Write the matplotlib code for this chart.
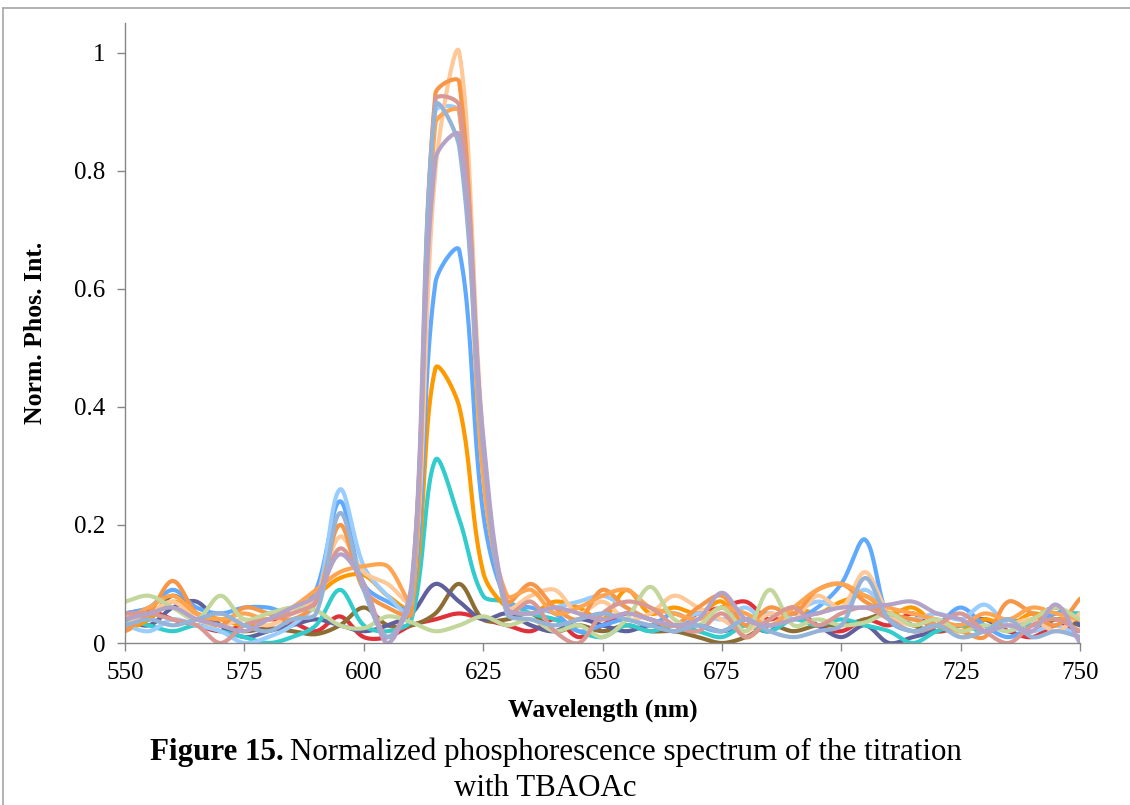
import numpy as np
import matplotlib
matplotlib.use("Agg")
import matplotlib.pyplot as plt
import matplotlib.ticker as ticker
from matplotlib.lines import Line2D

plt.rcParams["font.family"] = ["Liberation Serif", "DejaVu Serif"]

# Wavelength grid (nm), one reading every 5 nm
wavelength = list(range(550, 755, 5))

red = [.05, .055, .04, .03, .02, .03, .04, .035, .02, .045, .01, .01, .03, .04, .05, .04, .03, .02, .04, .01,
       .03, .05, .04, .03, .05, .06, .07, .04, .06, .03, .02, .04, .03, .05, .02, .03, .04, .02, .01, .03, .02]
brown = [.03, .04, .08, .05, .03, .02, .025, .02, .015, .03, .06, .03, .03, .05, .10, .04, .04, .05, .02, .03,
         .02, .03, .02, .02, .01, .0, .01, .03, .02, .03, .03, .04, .05, .03, .02, .03, .02, .03, .02, .04, .03]
slate = [.04, .03, .06, .07, .03, .01, .02, .03, .04, .03, .02, .03, .05, .10, .07, .04, .05, .03, .02, .04,
         .03, .02, .03, .02, .03, .02, .03, .02, .05, .03, .01, .03, .0, .01, .02, .03, .04, .02, .04, .06, .03]
turquoise = [.04, .03, .02, .03, .02, .01, .0, .01, .03, .09, .03, .02, .04, .31, .21, .08, .07, .05, .04, .02,
             .01, .03, .02, .03, .02, .01, .03, .02, .04, .03, .04, .03, .02, .0, .02, .03, .02, .04, .03, .05, .05]
orange = [.02, .04, .07, .05, .04, .03, .04, .05, .08, .11, .115, .08, .06, .465, .40, .12, .06, .05, .07, .06,
          .04, .09, .05, .06, .05, .07, .01, .04, .06, .05, .07, .08, .05, .06, .03, .02, .04, .03, .05, .04, .04]
blue = [.05, .06, .09, .06, .05, .06, .06, .05, .09, .24, .10, .07, .06, .61, .665, .22, .07, .06, .05, .02,
        .03, .04, .03, .05, .03, .02, .04, .05, .04, .06, .10, .175, .04, .02, .03, .06, .03, .01, .03, .05, .04]
light_blue = [.03, .02, .04, .03, .02, .0, .01, .03, .07, .26, .13, .08, .05, .90, .90, .30, .06, .05, .06, .07,
              .08, .06, .04, .03, .05, .04, .06, .03, .05, .07, .06, .09, .05, .04, .05, .04, .065, .03, .02, .03, .01]
peach = [.03, .05, .07, .04, .03, .04, .03, .05, .08, .18, .12, .10, .07, .80, 1.0, .35, .06, .08, .09, .05,
         .07, .04, .05, .08, .06, .04, .02, .05, .04, .08, .06, .12, .05, .03, .04, .01, .02, .03, .04, .02, .05]
orange_dark = [.02, .05, .105, .05, .03, .06, .05, .04, .07, .20, .09, .06, .05, .93, .95, .30, .07, .10, .06, .04,
               .09, .06, .04, .03, .06, .08, .03, .06, .05, .09, .10, .07, .05, .04, .03, .02, .01, .07, .05, .03, .075]
orange_light = [.04, .06, .08, .05, .04, .05, .04, .06, .09, .12, .13, .13, .07, .88, .90, .28, .08, .09, .05, .06,
                .08, .09, .06, .05, .04, .06, .05, .03, .06, .09, .10, .08, .06, .05, .04, .03, .05, .04, .06, .05, .04]
sage = [.07, .08, .06, .04, .08, .04, .05, .06, .055, .03, .025, .045, .035, .02, .03, .045, .03, .04, .02, .03,
        .01, .04, .095, .04, .03, .06, .02, .09, .03, .04, .03, .035, .05, .03, .04, .02, .03, .02, .04, .06, .04]
rosy = [.05, .05, .04, .03, .0, .03, .04, .05, .07, .16, .10, .01, .09, .92, .91, .34, .05, .07, .02, .0,
        .05, .07, .06, .03, .02, .05, .01, .04, .06, .03, .05, .06, .04, .02, .03, .05, .02, .0, .03, .04, .02]
gray_blue = [.03, .04, .03, .04, .05, .03, .02, .04, .05, .22, .09, .01, .08, .91, .84, .33, .05, .04, .03, .04,
             .05, .04, .03, .02, .03, .02, .04, .02, .01, .02, .03, .11, .04, .02, .03, .01, .02, .04, .01, .02, .01]
lavender = [.04, .05, .06, .04, .03, .02, .04, .06, .08, .15, .10, .0, .10, .82, .86, .35, .06, .05, .06, .05,
            .04, .05, .04, .03, .04, .085, .04, .03, .04, .05, .06, .06, .065, .07, .05, .04, .02, .03, .02, .065, .0]

series = [
    (red, "#e0313b"),
    (brown, "#8c6e34"),
    (slate, "#60619c"),
    (turquoise, "#33cccc"),
    (orange, "#ff9900"),
    (blue, "#5fa9ff"),
    (light_blue, "#99ccff"),
    (peach, "#ffc898"),
    (orange_dark, "#f79646"),
    (orange_light, "#ffa552"),
    (sage, "#c3d69b"),
    (rosy, "#d99894"),
    (gray_blue, "#95b3d7"),
    (lavender, "#b3a3c8"),
]

W, H = 1130, 805
AX_L, AX_R, AX_T, AX_B = 125, 1080, 23, 643
XMIN, XMAX, YMIN, YMAX = 550, 750, 0, 1.05
SX = (AX_R - AX_L) / (XMAX - XMIN)   # px per nm
SY = (AX_B - AX_T) / (YMAX - YMIN)   # px per unit


def smooth(x, y, steps=24):
    """Smoothed line: Catmull-Rom style Bezier segments, handles weighted by
    on-screen chord lengths so steep edges don't overshoot."""
    p = np.column_stack([np.asarray(x, float) * SX, np.asarray(y, float) * SY])
    n = len(p)
    seg = np.hypot(*(p[1:] - p[:-1]).T)
    out = []
    for i in range(n - 1):
        a, b = p[i], p[i + 1]
        if i > 0:
            m = p[i + 1] - p[i - 1]
            c1 = a + m * seg[i] / (seg[i - 1] + seg[i]) / 3.0
        else:
            c1 = a + (b - a) / 3.0
        if i < n - 2:
            m = p[i + 2] - p[i]
            c2 = b - m * seg[i] / (seg[i] + seg[i + 1]) / 3.0
        else:
            c2 = b - (b - a) / 3.0
        t = np.linspace(0, 1, steps, endpoint=(i == n - 2))[:, None]
        out.append(((1 - t) ** 3) * a + 3 * ((1 - t) ** 2) * t * c1 + 3 * (1 - t) * t ** 2 * c2 + t ** 3 * b)
    pts = np.concatenate(out)
    return pts[:, 0] / SX, pts[:, 1] / SY


fig = plt.figure(figsize=(W / 100, H / 100), dpi=100)
ax = fig.add_axes([AX_L / W, 1 - AX_B / H, (AX_R - AX_L) / W, (AX_B - AX_T) / H])

for values, color in series:
    sx, sy = smooth(wavelength, values)
    ax.plot(sx, sy, color=color, linewidth=3.0, solid_capstyle="round")

ax.set_xlim(XMIN, XMAX)
ax.set_ylim(YMIN, YMAX)
ax.set_xticks(range(550, 751, 25))
ax.set_yticks([0, 0.2, 0.4, 0.6, 0.8, 1.0])
ax.yaxis.set_major_formatter(ticker.FuncFormatter(lambda v, p: "%g" % v))

for side in ("top", "right"):
    ax.spines[side].set_visible(False)
for side in ("left", "bottom"):
    ax.spines[side].set_color("#868686")
    ax.spines[side].set_linewidth(1.0)
ax.tick_params(direction="out", length=6, width=1.0, color="#868686", labelsize=18, pad=8)

ax.set_xlabel("Wavelength (nm)", fontsize=18.5, fontweight="bold", labelpad=10)
ax.set_ylabel("Norm. Phos. Int.", fontsize=18.5, fontweight="bold", labelpad=20)

# outer frame
frame = dict(color="#a6a6a6", linewidth=1.2, transform=fig.transFigure)
fig.add_artist(Line2D([3 / W, 1], [1 - 8 / H, 1 - 8 / H], **frame))
fig.add_artist(Line2D([3 / W, 3 / W], [0, 1 - 8 / H], **frame))

# caption
renderer = fig.canvas.get_renderer()
cap_y = 1 - 752 / H
t1 = fig.text(150 / W, cap_y, "Figure 15.", fontsize=22.3, fontweight="bold", va="center", ha="left")
w1 = t1.get_window_extent(renderer).width
fig.text((150 + w1 + 6) / W, cap_y, "Normalized phosphorescence spectrum of the titration",
         fontsize=22.3, va="center", ha="left")
fig.text(545 / W, 1 - 788 / H, "with TBAOAc", fontsize=22.3, va="center", ha="center")

fig.savefig("out.png", dpi=100)
